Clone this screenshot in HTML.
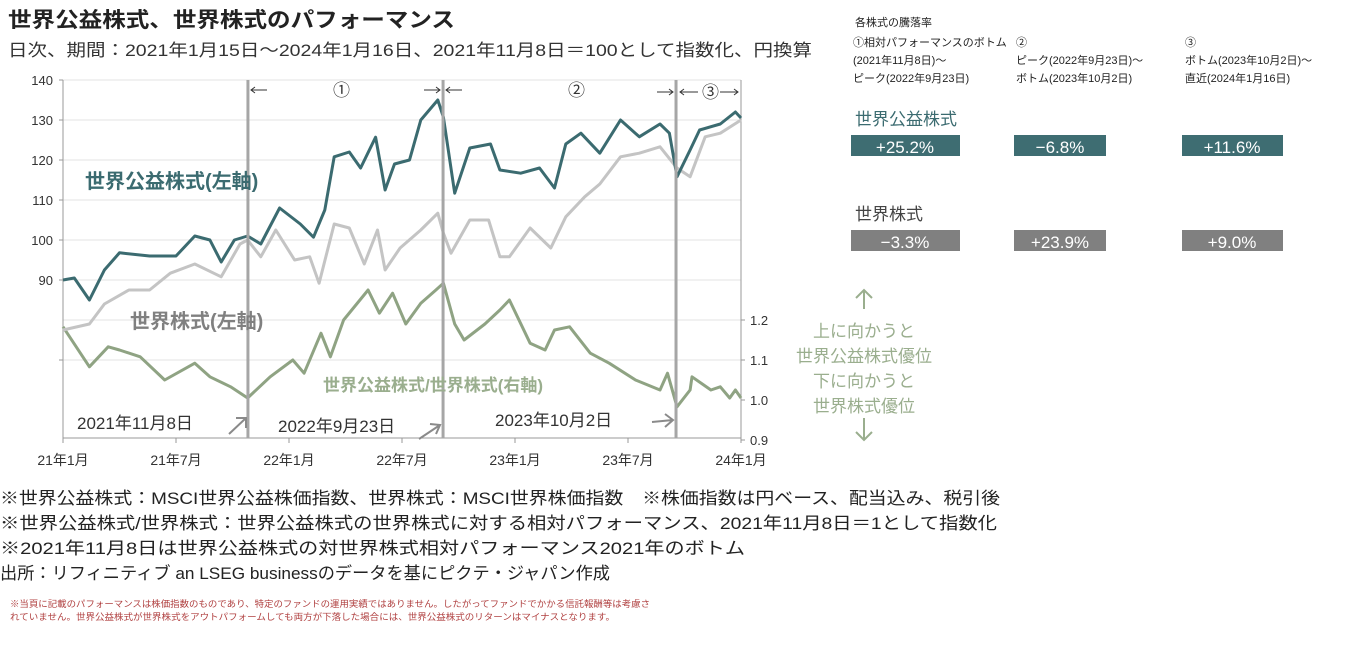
<!DOCTYPE html>
<html><head><meta charset="utf-8"><style>
html,body{margin:0;padding:0;background:#fff;}
svg{display:block;font-family:"Liberation Sans","Noto Sans CJK JP",sans-serif;}
</style></head><body>
<svg id="chart" width="1345" height="658" viewBox="0 0 1345 658" xmlns="http://www.w3.org/2000/svg">
<text x="8" y="27" font-size="21" font-weight="bold" fill="#222" textLength="447" lengthAdjust="spacingAndGlyphs">世界公益株式、世界株式のパフォーマンス</text>
<text x="8" y="56" font-size="17" fill="#333" textLength="804" lengthAdjust="spacingAndGlyphs">日次、期間：2021年1月15日～2024年1月16日、2021年11月8日＝100として指数化、円換算</text>
<g id="grid"></g>
<g id="axes"></g>
<g id="series"></g>
<g id="marks"></g>

<text x="85" y="188" font-size="20" font-weight="bold" fill="#3b6b70">世界公益株式(左軸)</text>
<text x="130" y="328" font-size="20" font-weight="bold" fill="#808080">世界株式(左軸)</text>
<text x="323" y="391" font-size="17" font-weight="bold" fill="#9aae8e">世界公益株式/世界株式(右軸)</text>
<text x="77" y="429" font-size="17" fill="#333">2021年11月8日</text>
<text x="278" y="432" font-size="17" fill="#333">2022年9月23日</text>
<text x="495" y="426" font-size="17" fill="#333">2023年10月2日</text>
<g stroke="#8a8a8a" stroke-width="2" fill="none">
<path d="M229 434 L246 418 M236 418 L246 418 L246 428"/>
<path d="M419 439 L440 425 M430 424 L440 425 L436 434"/>
<path d="M652 422 L673 420 M665 414 L673 420 L665 427"/>
</g>
<g font-size="17" fill="#333">
<text x="333" y="96">①</text><text x="568" y="96">②</text><text x="702" y="98">③</text>
</g>
<g stroke="#333" stroke-width="1" fill="none">
<path d="M251 90 H267 M255 87 L251 90 L255 93"/>
<path d="M424 90 H440 M436 87 L440 90 L436 93"/>
<path d="M446 90 H462 M450 87 L446 90 L450 93"/>
<path d="M657 92 H673 M669 89 L673 92 L669 95"/>
<path d="M680 92 H698 M684 89 L680 92 L684 95"/>
<path d="M720 92 H738 M734 89 L738 92 L734 95"/>
</g>

<g font-size="11" fill="#222">
<text x="855" y="26">各株式の騰落率</text>
<text x="853" y="46">①相対パフォーマンスのボトム</text>
<text x="853" y="64">(2021年11月8日)～</text>
<text x="853" y="82">ピーク(2022年9月23日)</text>
<text x="1016" y="46">②</text>
<text x="1016" y="64">ピーク(2022年9月23日)～</text>
<text x="1016" y="82">ボトム(2023年10月2日)</text>
<text x="1185" y="46">③</text>
<text x="1185" y="64">ボトム(2023年10月2日)～</text>
<text x="1185" y="82">直近(2024年1月16日)</text>
</g>
<text x="855" y="125" font-size="17" fill="#3b6b70">世界公益株式</text>
<text x="855" y="220" font-size="17" fill="#444">世界株式</text>
<g font-size="17" fill="#fff" text-anchor="middle">
<rect x="851" y="135" width="109" height="21" fill="#3e6d72"/><text x="905" y="153">+25.2%</text>
<rect x="1014" y="135" width="92" height="21" fill="#3e6d72"/><text x="1060" y="153">−6.8%</text>
<rect x="1182" y="135" width="101" height="21" fill="#3e6d72"/><text x="1232" y="153">+11.6%</text>
</g>
<g font-size="17" fill="#fff" text-anchor="middle">
<rect x="851" y="230" width="109" height="21" fill="#808080"/><text x="905" y="248">−3.3%</text>
<rect x="1014" y="230" width="92" height="21" fill="#808080"/><text x="1060" y="248">+23.9%</text>
<rect x="1182" y="230" width="101" height="21" fill="#808080"/><text x="1232" y="248">+9.0%</text>
</g>
<g fill="#9aae8e" font-size="17" text-anchor="middle">
<path d="M864 290 V309 M856 298 L864 290 L872 298" stroke="#9aae8e" stroke-width="2" fill="none"/>
<text x="864" y="337">上に向かうと</text>
<text x="864" y="362">世界公益株式優位</text>
<text x="864" y="387">下に向かうと</text>
<text x="864" y="412">世界株式優位</text>
<path d="M864 418 V440 M856 432 L864 440 L872 432" stroke="#9aae8e" stroke-width="2" fill="none"/>
</g>
<g font-size="17" fill="#222">
<text x="0" y="504" textLength="1000" lengthAdjust="spacingAndGlyphs">※世界公益株式：MSCI世界公益株価指数、世界株式：MSCI世界株価指数　※株価指数は円ベース、配当込み、税引後</text>
<text x="0" y="529" textLength="997" lengthAdjust="spacingAndGlyphs">※世界公益株式/世界株式：世界公益株式の世界株式に対する相対パフォーマンス、2021年11月8日＝1として指数化</text>
<text x="0" y="554" textLength="745" lengthAdjust="spacingAndGlyphs">※2021年11月8日は世界公益株式の対世界株式相対パフォーマンス2021年のボトム</text>
<text x="0" y="579" textLength="610" lengthAdjust="spacingAndGlyphs">出所：リフィニティブ an LSEG businessのデータを基にピクテ・ジャパン作成</text>
</g>
<g font-size="9" fill="#b04040">
<text x="10" y="607" textLength="640" lengthAdjust="spacingAndGlyphs">※当頁に記載のパフォーマンスは株価指数のものであり、特定のファンドの運用実績ではありません。したがってファンドでかかる信託報酬等は考慮さ</text>
<text x="10" y="620" textLength="605" lengthAdjust="spacingAndGlyphs">れていません。世界公益株式が世界株式をアウトパフォームしても両方が下落した場合には、世界公益株式のリターンはマイナスとなります。</text>
</g>
</svg>
<script>
// months since 2021-01 and values
const utilT = [0,0.6,1.4,2.2,3.0,4.6,6.0,7.0,7.8,8.4,9.1,9.8,10.5,11.5,12.6,13.3,13.9,14.4,15.2,15.8,16.6,17.1,17.6,18.4,19.0,19.9,20.2,20.8,21.6,22.7,23.2,24.3,25.3,26.1,26.7,27.5,28.5,29.6,30.6,31.7,32.2,32.6,33.3,33.8,34.9,35.7,36.0];
const utilV = [90,90.5,85,92.5,96.8,96,96,101,100,94.5,100,101,99,108,104,100.7,107.5,120.8,122,118,125.7,112.5,119,120,130,135,130.7,111.7,123,124,117.5,116.7,118,113,124,126.7,121.7,130,125.8,129,126.7,115.8,122.5,127.5,129,132,130.5];
const worldT = [0,1.4,2.2,3.5,4.6,5.7,7.0,8.4,9.4,9.8,10.5,11.3,12.3,13.1,13.6,14.4,15.2,16.0,16.7,17.1,17.9,19.0,19.9,20.2,20.6,21.6,22.6,23.2,23.7,24.8,25.9,26.7,27.7,28.5,29.6,30.6,31.7,32.6,33.3,34.1,34.9,36.0];
const worldV = [77.5,79,84,87.5,87.5,91.7,94,90.8,99,100,95.8,102.5,95,95.8,89.2,104,103,94,102.5,92.5,98,102.5,106.7,101.7,96.7,105,105,95.8,95.8,103,98,105.8,110.8,114,120.8,121.7,123.3,118,115.8,125.8,126.7,130];
const relT = [0,1.4,2.4,3.0,4.1,5.4,7.0,7.8,8.9,9.8,11.0,12.2,12.8,13.7,14.2,14.9,16.2,16.8,17.5,18.2,19.0,19.8,20.2,20.8,21.3,22.4,23.2,23.7,24.8,25.6,26.1,26.9,28.0,29.0,30.4,31.7,32.1,32.6,33.3,33.4,34.4,34.9,35.4,35.7,36.0];
const relV = [1.183,1.083,1.133,1.125,1.108,1.05,1.092,1.058,1.033,1.005,1.058,1.1,1.067,1.167,1.108,1.2,1.275,1.217,1.267,1.19,1.242,1.275,1.292,1.19,1.15,1.19,1.225,1.25,1.142,1.125,1.175,1.183,1.117,1.092,1.05,1.025,1.067,0.983,1.025,1.058,1.025,1.033,1.005,1.025,1.005];
const leftTicks = [90,100,110,120,130,140];
const rightTicks = [0.9,1.0,1.1,1.2];
const xTickMonths = [0,6,12,18,24,30,36];
const xTickLabels = ["21年1月","21年7月","22年1月","22年7月","23年1月","23年7月","24年1月"];
const eventMonths = [9.82,20.18,32.55];

const X0=63, X1=741;
const x = t => X0 + (X1-X0)*t/36;
const yL = v => 80 + (140-v)*4;
const yR = v => 400 - (v-1.0)*400;
const NS="http://www.w3.org/2000/svg";
function mk(tag, parent, attrs){const e=document.createElementNS(NS,tag);for(const k in attrs)e.setAttribute(k,attrs[k]);parent.appendChild(e);return e;}
const grid=document.getElementById('grid'), axes=document.getElementById('axes'), series=document.getElementById('series'), marks=document.getElementById('marks');
for(let v=140; v>=65; v-=10){
  const g=mk('line',grid,{x1:X0,x2:X1,y1:yL(v),y2:yL(v),stroke:'#e3e3e3','stroke-width':1});
  
  
}
const la=mk('line',axes,{x1:X0,x2:X0,y1:80,y2:438,stroke:'#999'});


const ra=mk('line',axes,{x1:X1,x2:X1,y1:80,y2:438,stroke:'#999'});


const ba=mk('line',axes,{x1:X0,x2:X1,y1:438,y2:438,stroke:'#999'});


leftTicks.forEach(v=>{
  const t=mk('text',axes,{x:53,y:yL(v)+5,'font-size':13,fill:'#333','text-anchor':'end'});t.textContent=v;
  
  
  mk('line',axes,{x1:X0-4,x2:X0,y1:yL(v),y2:yL(v),stroke:'#999'});
});
for(let v=70; v>=65; v-=10) mk('line',axes,{x1:X0-4,x2:X0,y1:yL(v),y2:yL(v),stroke:'#999'});
rightTicks.forEach(v=>{
  const t=mk('text',axes,{x:750,y:yR(v)+5,'font-size':13,fill:'#333'});t.textContent=v.toFixed(1);
  
  
  mk('line',axes,{x1:X1,x2:X1+4,y1:yR(v),y2:yR(v),stroke:'#999'});
});
xTickMonths.forEach((m,i)=>{
  mk('line',axes,{x1:x(m),x2:x(m),y1:438,y2:443,stroke:'#999'});
  const t=mk('text',axes,{x:x(m),y:465,'font-size':14,fill:'#333','text-anchor':'middle'});t.textContent=xTickLabels[i];
  
  
});
eventMonths.forEach(m=>{
  const l=mk('line',marks,{x1:x(m),x2:x(m),y1:80,y2:438,stroke:'#a6a6a6','stroke-width':3});
  
  
});
function line(T,V,fy,color,name){
  const d=T.map((t,i)=>(i?'L':'M')+x(t).toFixed(1)+' '+fy(V[i]).toFixed(1)).join(' ');
  const p=mk('path',series,{d:d,fill:'none',stroke:color,'stroke-width':3,'stroke-linejoin':'round'});
  
  
}
line(relT,relV,yR,'#8fa383','relative-line');
line(worldT,worldV,yL,'#c4c4c4','world-line');
line(utilT,utilV,yL,'#3b6b70','utility-line');
</script>
</body></html>
